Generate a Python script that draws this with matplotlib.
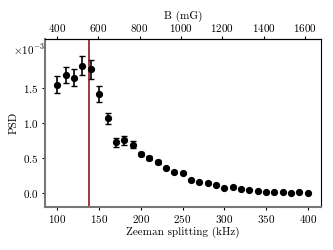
import matplotlib
matplotlib.use("Agg")
import matplotlib.pyplot as plt
from matplotlib.ticker import ScalarFormatter
import numpy as np

plt.rcParams['font.family'] = 'serif'
plt.rcParams['font.serif'] = ['cmr10', 'DejaVu Serif']
plt.rcParams['mathtext.fontset'] = 'cm'
plt.rcParams['axes.formatter.use_mathtext'] = True
plt.rcParams['axes.unicode_minus'] = False
plt.rcParams['font.size'] = 8

freq_khz = [100, 110, 120, 130, 140, 150, 160, 170, 180, 190, 200, 210, 220, 230, 240,
            250, 260, 270, 280, 290, 300, 310, 320, 330, 340, 350, 360, 370, 380, 390, 400]
psd = [1.547, 1.686, 1.65, 1.82, 1.766, 1.414, 1.066, 0.723, 0.751, 0.69, 0.557, 0.504,
       0.443, 0.357, 0.30, 0.28, 0.186, 0.152, 0.143, 0.114, 0.076, 0.08, 0.061, 0.047,
       0.028, 0.01, 0.01, 0.008, 0.0, 0.02, 0.0]
psd_err = [0.12, 0.12, 0.12, 0.14, 0.135, 0.11, 0.08, 0.06, 0.06, 0.05, 0.035, 0.03,
           0.025, 0.02, 0.018, 0.015, 0.012, 0.01, 0.01, 0.01, 0.008, 0.008, 0.006, 0.006,
           0.005, 0.005, 0.005, 0.005, 0.005, 0.005, 0.005]
marker_line_khz = 137.5
khz_per_mg = 0.248

psd_v = np.array(psd) * 1e-3
err_v = np.array(psd_err) * 1e-3

fig = plt.figure(figsize=(3.33, 2.5), dpi=100)
ax = fig.add_axes([0.135, 0.172, 0.829, 0.672])

ax.errorbar(freq_khz, psd_v, yerr=err_v, fmt='o', color='black', ms=4.2,
            capsize=2, elinewidth=1.2, capthick=1.0)
ax.axvline(marker_line_khz, color='#8b1a1a', lw=1.2)

ax.set_xlim(85, 416)
ax.set_ylim(-0.2e-3, 2.2e-3)
ax.set_yticks([0, 0.5e-3, 1.0e-3, 1.5e-3])
fmt = ScalarFormatter(useMathText=True)
fmt.set_powerlimits((0, 0))
ax.yaxis.set_major_formatter(fmt)
ax.yaxis.get_offset_text().set_visible(False)
ax.text(-0.115, 0.935, r'$\times10^{-3}$', transform=ax.transAxes, ha='left', va='center')

ax.set_xlabel('Zeeman splitting (kHz)', labelpad=1)
ax.set_ylabel('PSD', labelpad=3)

for s in ['left', 'bottom']:
    ax.spines[s].set_color('#777777')
    ax.spines[s].set_linewidth(1.5)
for s in ['top', 'right']:
    ax.spines[s].set_color('black')
    ax.spines[s].set_linewidth(0.8)
ax.tick_params(length=2.5, width=0.8, pad=2)

sec = ax.secondary_xaxis('top', functions=(lambda f: f / khz_per_mg, lambda b: b * khz_per_mg))
sec.set_xticks([400, 600, 800, 1000, 1200, 1400, 1600])
sec.set_xlabel('B (mG)', labelpad=2.5)
sec.tick_params(length=2.5, width=0.8, pad=1)

fig.savefig('out.png', dpi=100)
